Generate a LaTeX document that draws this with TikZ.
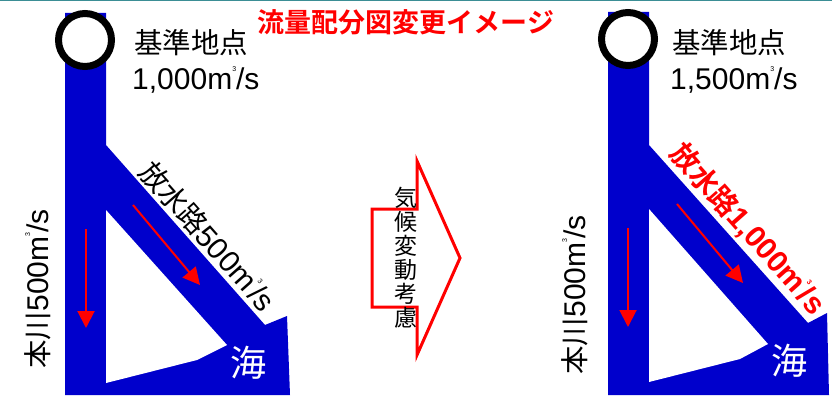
\documentclass[tikz,border=0pt]{standalone}
\usepackage{fontspec}
\setmainfont{Liberation Sans}
\newfontfamily\jpfont{Noto Sans CJK JP}[Scale=0.95,BoldFont={Noto Sans CJK JP Bold}]
\usetikzlibrary{arrows.meta}
\definecolor{riverblue}{RGB}{0,0,204}
\definecolor{framegreen}{RGB}{59,142,149}
\newcommand\cubicm{m\raisebox{0.6em}{\fontsize{7}{7}\selectfont 3}}

\begin{document}
\begin{tikzpicture}[x=1pt,y=-1pt,
	flow/.style={red,line width=2pt,-{Triangle[width=17pt,length=17pt]}},
	flowtext/.style={inner sep=0pt,font=\fontsize{30}{34}\selectfont}]
			%%%%% START %%%%%
			\def\ring{26.5pt}
			\def\ringw{7pt}
			\def\tilt{-48.5}
			
			\useasboundingbox (0,0) rectangle (832,398);
			\draw[framegreen,line width=1.5pt] (0,0.75) -- (832,0.75);
			
			\node[red,inner sep=0pt,font=\jpfont\bfseries\fontsize{28.4}{28}\selectfont] (title) at (406,22) {流量配分図変更イメージ};
			
			% river now
			\fill[riverblue] (65,13) -- (106,13) -- (106,145) -- (265,325) -- (287,316) -- (290,395) -- (65,395) -- cycle;
			\fill[white] (106,210) -- (227,345) -- (197,360) -- (106,383) -- cycle;
			\draw[line width=\ringw,fill=white] (85,40) circle[radius=\ring];
			
			\draw[flow] (86,229) -- (86,328);
			\draw[flow] (133,205) -- (200,285);
			
			\node[flowtext,anchor=base west] (pointname) at (134,54) {\jpfont 基準地点};
			\node[flowtext,anchor=base west] (pointflow) at (132,90) {1,000\cubicm/s};
			\node[flowtext,anchor=base,rotate=90] (mainflow) at (48,289) {{\jpfont 本川}500\cubicm/s};
			\node[flowtext,anchor=base,rotate=\tilt] (bypassflow) at (199.5,243.6) {{\jpfont 放水路}500\cubicm/s};
			\node[white,inner sep=0pt,font=\jpfont\fontsize{38}{38}\selectfont] (sea) at (248.5,362.5) {海};
			
			% change arrow
			\draw[red,line width=3pt] (417,161) -- (460,258) -- (417,355) -- (417,307) -- (372,307) -- (372,209) -- (417,209) -- cycle;
			\node[inner sep=0pt,align=center,font=\jpfont\fontsize{24.2}{24}\selectfont] (climate) at (406,258) {気\\候\\変\\動\\考\\慮};
			
			% river after
			\fill[riverblue] (608,12) -- (649,12) -- (649,145) -- (808,323) -- (827,313) -- (829,395) -- (608,395) -- cycle;
			\fill[white] (649,209) -- (768,344) -- (740,359) -- (649,382) -- cycle;
			\draw[line width=\ringw,fill=white] (628,39) circle[radius=\ring];
			
			\draw[flow] (628,228) -- (628,327);
			\draw[flow] (677,204) -- (743,283);
			
			\node[flowtext,anchor=base west] (pointname2) at (672,54) {\jpfont 基準地点};
			\node[flowtext,anchor=base west] (pointflow2) at (670,90) {1,500\cubicm/s};
			\node[flowtext,anchor=base,rotate=90] (mainflow2) at (585,295) {{\jpfont 本川}500\cubicm/s};
			\node[flowtext,red,font=\fontsize{30}{34}\selectfont\bfseries,anchor=base,rotate=\tilt] (bypassflow2) at (740.5,235.6) {{\jpfont 放水路}1,000\cubicm/s};
			\node[white,inner sep=0pt,font=\jpfont\fontsize{38}{38}\selectfont] (sea2) at (790,360.5) {海};
			%%%%% END %%%%%
\end{tikzpicture}
\end{document}
